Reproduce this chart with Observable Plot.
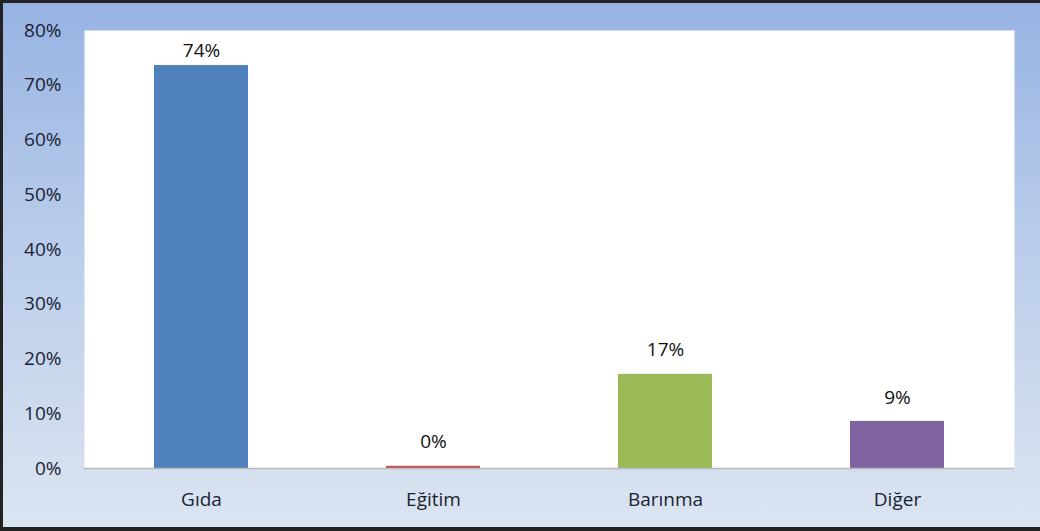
<!DOCTYPE html>
<html><head><meta charset="utf-8">
<script src="https://cdn.jsdelivr.net/npm/d3@7"></script>
<script src="https://cdn.jsdelivr.net/npm/@observablehq/plot@0.6"></script>
<style>
body{margin:0;background:#fff;}
#wrap{position:relative;width:1040px;height:531px;}
#border{position:absolute;left:0;top:0;width:1040px;height:531px;box-sizing:border-box;border-top:3px solid #222;border-left:3px solid #222;border-bottom:4px solid #222;pointer-events:none;}
</style></head>
<body><div id="wrap"><div id="border"></div></div>
<script>
const categories = ["Gıda", "Eğitim", "Barınma", "Diğer"];
const values = [73.6, 0.4, 17.2, 8.6];
const labels = ["74%", "0%", "17%", "9%"];
const colors = ["#4F81BD", "#C0504D", "#9BBB59", "#8064A2"];
const yTicks = [0, 10, 20, 30, 40, 50, 60, 70, 80];

const data = categories.map((c, i) => ({cat: c, v: values[i], label: labels[i], color: colors[i]}));
const nearTop = data.filter(d => d.v > 70);
const rest = data.filter(d => d.v <= 70);

const chart = Plot.plot({
  width: 1040, height: 531,
  marginLeft: 84, marginRight: 26, marginTop: 30, marginBottom: 63,
  style: {background: "linear-gradient(to bottom, #97B3E3 0%, #B9CCEA 45%, #DCE5F1 100%)", fontFamily: "'Open Sans', Lato, sans-serif", fontSize: "18px", color: "#1a1f33"},
  x: {domain: categories, paddingInner: 0.596, paddingOuter: 0.298, label: null},
  y: {domain: [0, 80], label: null},
  marks: [
    Plot.frame({fill: "white", stroke: null}),
    Plot.barY(data, {x: "cat", y: "v", fill: "color"}),
    Plot.ruleY([0], {stroke: "#b8b8b8", strokeWidth: 1.5}),
    Plot.text(nearTop, {x: "cat", y: "v", text: "label", dy: -15, fontSize: 19, fill: "#111"}),
    Plot.text(rest, {x: "cat", y: "v", text: "label", dy: -24, fontSize: 19, fill: "#111"}),
    Plot.axisY({ticks: yTicks, tickFormat: d => d + "%", tickSize: 0, tickPadding: 23, fontSize: 19, label: null}),
    Plot.axisX({tickSize: 0, tickPadding: 24, fontSize: 19, label: null})
  ]
});
document.getElementById("wrap").prepend(chart);
</script></body></html>
